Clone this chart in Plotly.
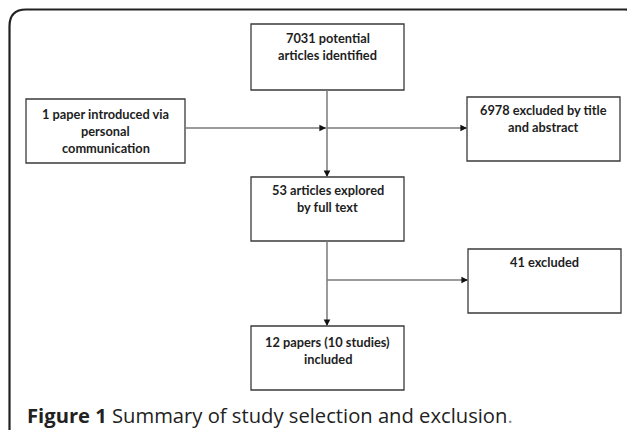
import plotly.graph_objects as go

# ---- content (text of each box, one entry per line) ----
box_names = ["identified", "personal", "excluded_title", "full_text", "excluded_41", "included"]
box_lines = [
    ["7031 potential", "articles identified"],
    ["1 paper introduced via", "personal", "communication"],
    ["6978 excluded by title", "and abstract"],
    ["53 articles explored", "by full text"],
    ["41 excluded"],
    ["12 papers (10 studies)", "included"],
]
caption_bold = "Figure 1"
caption_text = "Summary of study selection and exclusion"

# ---- layout geometry (pixels, y downwards) ----
W, H = 627, 430
geom = {
    "identified":     (251, 404, 24, 90),
    "personal":       (26, 185, 99, 163),
    "excluded_title": (467, 620, 97, 161),
    "full_text":      (251, 404, 177, 241),
    "excluded_41":    (468, 621, 249, 313),
    "included":       (251, 404, 326, 390),
}
cx = 327
line_gap = 17
first_line_offset = {"identified": 14, "personal": 15, "excluded_title": 13,
                     "full_text": 13, "excluded_41": 13, "included": 16}

# connectors: (x0, y0, x1, y1, arrow)
connectors = [
    (cx, 90, cx, 177, True),
    (185, 128, cx - 1, 128, True),
    (cx, 128, 467, 128, True),
    (cx, 241, cx, 326, True),
    (cx, 280, 468, 280, True),
]

fig = go.Figure()
shapes = []
annotations = []

# outer rounded frame
shapes.append(dict(type="path", xref="x", yref="y",
                   path="M 9.5 440 L 9.5 26 Q 9.5 9.5 26 9.5 L 625 9.5 Q 641 9.5 641 26 L 641 440",
                   line=dict(color="#222222", width=2.2)))

for name, lines in zip(box_names, box_lines):
    x0, x1, y0, y1 = geom[name]
    shapes.append(dict(type="rect", xref="x", yref="y", x0=x0, x1=x1, y0=y0, y1=y1,
                       line=dict(color="#3a3a3a", width=1.3), fillcolor="white", layer="below"))
    for i, t in enumerate(lines):
        annotations.append(dict(x=(x0 + x1) / 2, y=y0 + first_line_offset[name] + i * line_gap,
                                xref="x", yref="y", text="<b>" + t + "</b>", showarrow=False,
                                xanchor="center", yanchor="middle",
                                font=dict(family="Lato", size=12.8, color="#1e1e1e")))

for x0, y0, x1, y1, arr in connectors:
    shapes.append(dict(type="line", xref="x", yref="y", x0=x0, y0=y0, x1=x1, y1=y1,
                       line=dict(color="#7a7a7a", width=1.5)))
    if arr:
        dx = 0 if x0 == x1 else (1 if x1 > x0 else -1)
        dy = 0 if y0 == y1 else (1 if y1 > y0 else -1)
        annotations.append(dict(x=x1, y=y1, ax=x1 - dx * 6, ay=y1 - dy * 6,
                                xref="x", yref="y", axref="x", ayref="y",
                                text="", showarrow=True, arrowhead=2, arrowsize=1.1,
                                arrowwidth=1.2, arrowcolor="#111111", standoff=0))

annotations.append(dict(x=25, y=415, xref="x", yref="y", xanchor="left", yanchor="middle",
                        text="<b>" + caption_bold + "</b> " + caption_text +
                             "<span style='color:#8a8a8a'>.</span>",
                        showarrow=False,
                        font=dict(family="Open Sans", size=20.2, color="#222222")))

fig.update_layout(
    width=W, height=H, margin=dict(l=0, r=0, t=0, b=0),
    paper_bgcolor="white", plot_bgcolor="white",
    xaxis=dict(range=[0, W], visible=False, fixedrange=True),
    yaxis=dict(range=[H, 0], visible=False, fixedrange=True),
    shapes=shapes, annotations=annotations, showlegend=False,
)
fig.write_html("out.html", config={"displayModeBar": False},
               post_script="document.body.style.margin='0';document.body.style.overflow='hidden';")
